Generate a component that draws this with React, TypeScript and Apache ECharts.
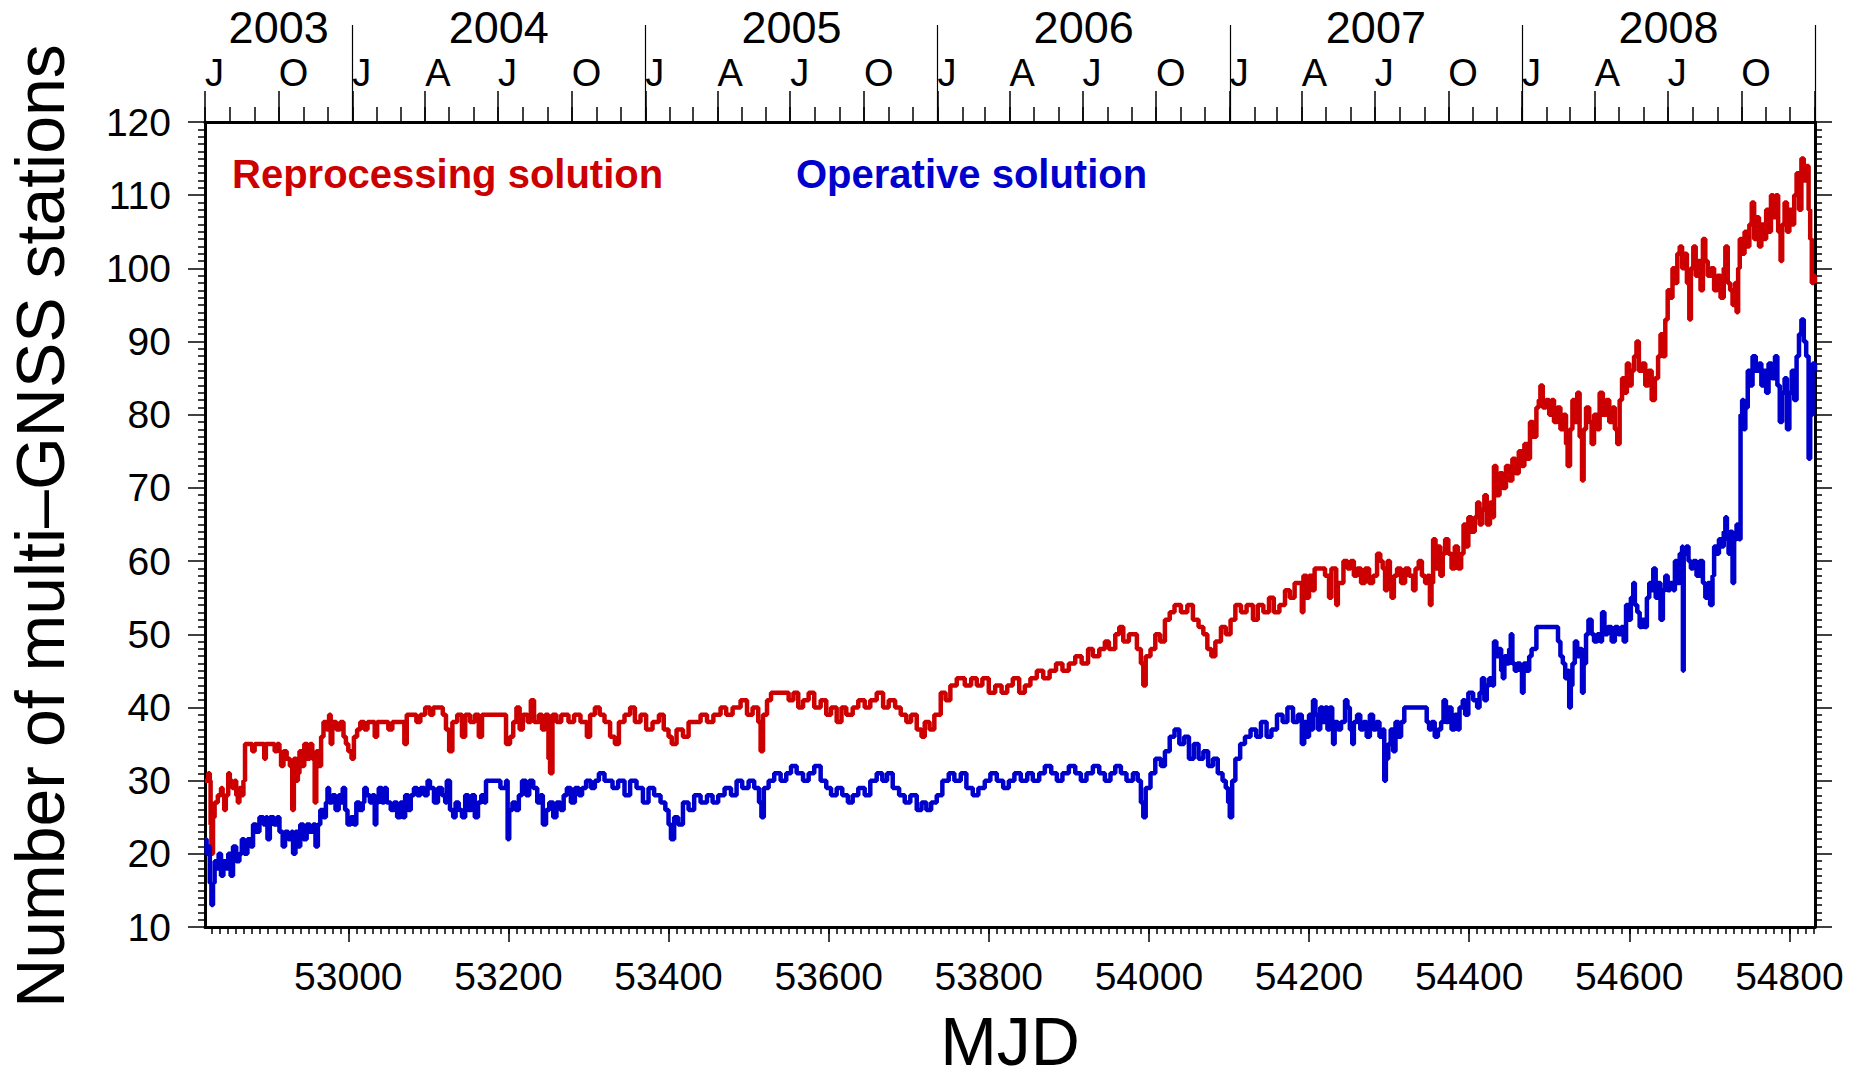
import React, { useEffect, useRef } from "react";
import * as echarts from "echarts";

// ---------- axis ranges & tick values ----------
const X_MIN = 52821; // 2003-07-01
const X_MAX = 54832; // 2009-01-01
const Y_MIN = 10;
const Y_MAX = 120;
const Y_INTERVAL = 10;
const bottomMajorTicks = [53000, 53200, 53400, 53600, 53800, 54000, 54200, 54400, 54600, 54800];
const monthLetters = ["J", "F", "M", "A", "M", "J", "J", "A", "S", "O", "N", "D"];
const quarterLetterMonths = [0, 3, 6, 9];

// ---------- data: [MJD, number of stations] ----------
const reprocessing: [number, number][] = [
  [52821,30],[52825,31],[52827,30],[52828,24],[52829,20],[52831,25],[52833,27],[52837,28],[52841,29],[52843,28],[52845,26],[52847,28],[52850,31],[52852,30],[52855,29],[52858,30],[52860,28],[52862,27],[52864,29],[52867,28],[52869,30],[52871,35],[52880,34],[52883,35],[52893,35],[52895,33],[52897,35],[52908,34],[52911,35],[52914,34],[52916,32],[52919,34],[52923,33],[52927,32],[52930,26],[52932,33],[52935,30],[52937,31],[52939,34],[52942,32],[52945,35],[52949,33],[52952,35],[52955,33],[52958,27],[52960,34],[52963,32],[52966,36],[52969,38],[52973,37],[52976,39],[52978,35],[52980,38],[52985,37],[52990,38],[52994,36],[52997,35],[53000,34],[53004,33],[53007,36],[53011,37],[53015,38],[53020,37],[53024,38],[53030,38],[53033,36],[53036,38],[53045,38],[53050,37],[53055,38],[53066,38],[53070,35],[53073,39],[53080,39],[53085,38],[53090,39],[53096,40],[53102,39],[53106,40],[53112,40],[53118,39],[53122,37],[53126,34],[53130,38],[53136,39],[53142,36],[53146,39],[53152,38],[53158,39],[53163,36],[53167,39],[53175,39],[53190,39],[53197,35],[53202,36],[53206,38],[53210,40],[53214,37],[53218,39],[53224,38],[53228,41],[53232,38],[53238,39],[53242,37],[53246,39],[53250,33],[53252,31],[53255,39],[53260,38],[53266,39],[53275,38],[53282,39],[53290,38],[53298,36],[53302,39],[53308,40],[53314,39],
  [53320,38],[53327,36],[53333,35],[53338,38],[53345,39],[53352,40],[53358,38],[53365,39],[53372,37],[53380,38],[53388,39],[53394,37],[53400,36],[53404,35],[53410,37],[53418,36],[53425,38],[53433,38],[53440,39],[53448,38],[53456,39],[53465,40],[53472,39],[53480,40],[53490,41],[53498,39],[53505,40],[53512,38],[53515,34],[53518,39],[53523,41],[53528,42],[53545,42],[53550,41],[53556,42],[53562,40],[53568,41],[53575,42],[53582,40],[53590,41],[53597,39],[53603,40],[53610,38],[53616,40],[53622,39],[53630,40],[53637,41],[53645,40],[53652,41],[53660,42],[53668,40],[53675,41],[53683,40],[53690,39],[53697,38],[53703,39],[53710,37],[53716,36],[53720,38],[53726,37],[53732,39],[53740,42],[53746,41],[53752,43],[53760,44],[53770,43],[53778,44],[53785,43],[53792,44],[53800,42],[53808,43],[53816,42],[53823,43],[53830,44],[53838,42],[53845,43],[53852,44],[53860,45],[53868,44],[53876,45],[53884,46],[53892,45],[53900,46],[53908,47],[53916,46],[53924,48],[53930,47],[53938,48],[53945,49],[53950,48],[53958,50],[53963,51],[53968,49],[53975,50],[53985,48],[53990,46],[53993,43],[53996,47],[54002,48],[54008,50],[54014,49],[54020,52],[54026,53],[54032,54],[54040,53],[54048,54],[54055,52],[54062,51],[54068,50],[54073,48],[54078,47],[54083,49],[54090,51],[54096,50],[54102,52],[54108,54],[54115,53],[54122,54],[54130,52],[54136,54],[54143,53],[54150,55],[54156,53],[54163,54],[54170,56],[54176,55],[54182,57],
  [54189,57],[54191,53],[54193,58],[54197,55],[54200,58],[54204,56],[54207,59],[54215,59],[54220,58],[54225,55],[54228,59],[54234,54],[54236,57],[54243,60],[54248,59],[54252,60],[54256,58],[54260,59],[54265,57],[54270,59],[54275,57],[54280,58],[54285,61],[54289,60],[54292,59],[54295,56],[54298,60],[54301,57],[54303,55],[54306,58],[54310,59],[54315,57],[54320,59],[54325,58],[54330,56],[54333,59],[54337,60],[54341,58],[54345,57],[54348,58],[54351,54],[54353,57],[54355,63],[54358,59],[54361,62],[54364,58],[54367,61],[54370,63],[54374,61],[54378,59],[54382,62],[54386,59],[54390,61],[54393,65],[54396,62],[54399,66],[54403,64],[54407,66],[54410,68],[54413,65],[54416,67],[54419,69],[54422,65],[54426,68],[54429,66],
  [54431,73],[54434,69],[54438,72],[54442,70],[54446,73],[54450,71],[54454,74],[54458,72],[54462,75],[54466,73],[54469,76],[54473,74],[54476,79],[54480,77],[54484,81],[54487,82],[54489,84],[54492,81],[54496,82],[54500,80],[54503,82],[54506,79],[54510,81],[54514,78],[54518,80],[54521,76],[54523,73],[54526,78],[54529,82],[54532,79],[54535,83],[54538,77],[54541,71],[54543,78],[54546,81],[54550,79],[54553,76],[54556,80],[54560,78],[54563,83],[54567,80],[54571,82],[54575,79],[54579,81],[54582,78],[54585,76],[54588,82],[54591,85],[54594,83],[54597,87],[54600,84],[54603,86],[54606,88],[54609,90],[54612,86],[54616,87],[54620,84],[54624,86],[54628,82],[54632,85],[54636,88],[54639,91],[54642,88],[54645,93],[54648,97],[54651,96],[54654,100],[54657,98],[54660,102],[54663,103],[54666,100],[54669,102],[54672,98],[54675,93],[54677,100],[54680,103],[54683,99],[54686,101],[54689,97],[54692,104],[54695,101],[54698,99],[54702,100],[54706,97],[54710,99],[54714,96],[54718,100],[54720,103],[54723,98],[54726,97],[54729,95],[54732,98],[54734,94],[54736,100],[54738,104],[54741,102],[54744,105],[54747,103],[54750,106],[54753,109],[54756,104],[54759,107],[54762,103],[54765,106],[54768,104],[54771,108],[54774,105],[54777,110],[54780,107],[54783,110],[54786,105],[54789,101],[54791,106],[54794,109],[54797,105],[54800,108],[54803,106],[54806,110],[54809,113],[54812,108],[54815,115],[54818,112],[54821,114],[54824,108],[54826,104],[54828,98],[54830,99],[54832,98]
];

const operative: [number, number][] = [
  [52821,22],[52823,20],[52825,21],[52827,16],[52829,13],[52831,16],[52833,19],[52836,18],[52838,20],[52841,17],[52844,19],[52847,18],[52850,20],[52853,17],[52856,21],[52860,19],[52864,20],[52867,22],[52870,20],[52874,22],[52878,21],[52881,24],[52885,23],[52889,25],[52894,24],[52897,25],[52899,22],[52902,25],[52907,24],[52911,25],[52914,23],[52918,21],[52921,23],[52925,22],[52929,23],[52931,20],[52934,23],[52937,21],[52940,24],[52944,22],[52948,24],[52952,23],[52956,24],[52959,21],[52962,24],[52965,26],[52969,25],[52972,27],[52974,29],[52976,27],[52980,28],[52984,26],[52988,28],[52991,27],[52993,29],[52996,26],[52999,24],[53003,25],[53007,24],[53010,27],[53014,26],[53018,27],[53020,29],[53023,28],[53027,27],[53030,28],[53033,24],[53035,27],[53038,29],[53042,27],[53045,29],[53048,27],[53053,26],[53057,27],[53061,25],[53065,27],[53068,25],[53071,28],[53075,26],[53078,28],[53082,29],[53086,28],[53090,29],[53095,28],[53099,30],[53102,29],[53107,27],[53112,29],[53117,28],[53121,27],[53123,30],[53127,26],[53131,25],[53134,27],[53138,26],[53142,25],[53146,28],[53150,26],[53154,28],[53158,25],[53162,27],[53166,28],[53170,27],[53172,30],[53185,30],[53190,29],[53197,30],[53199,22],[53201,26],[53205,27],[53209,26],[53213,28],[53217,30],[53222,28],[53226,30],[53231,29],[53236,27],[53240,28],[53243,24],[53247,26],[53251,27],[53256,25],[53260,27],[53265,26],[53269,28],[53273,29],[53278,27],[53283,29],[53288,28],[53292,29],[53297,30],[53303,29],[53308,30],[53313,31],
  [53320,30],[53330,29],[53337,30],[53345,28],[53352,30],[53360,29],[53368,27],[53375,29],[53382,28],[53390,27],[53396,26],[53400,24],[53403,22],[53407,25],[53412,24],[53418,27],[53425,26],[53432,28],[53440,27],[53448,28],[53455,27],[53462,28],[53470,29],[53478,28],[53485,30],[53492,29],[53500,30],[53507,29],[53513,27],[53516,25],[53519,29],[53525,30],[53532,31],[53540,30],[53547,31],[53553,32],[53560,31],[53568,30],[53575,31],[53582,32],[53590,30],[53597,29],[53603,28],[53610,29],[53617,28],[53624,27],[53630,28],[53637,29],[53645,28],[53652,30],[53660,31],[53667,30],[53673,31],[53680,29],[53688,28],[53695,27],[53702,28],[53710,26],[53716,27],[53722,26],[53728,27],[53735,28],[53742,30],[53750,31],[53757,30],[53765,31],[53772,29],[53780,28],[53787,29],[53795,30],[53802,31],[53810,30],[53818,29],[53825,30],[53832,31],[53840,30],[53848,31],[53855,30],[53863,31],[53870,32],[53878,31],[53885,30],[53892,31],[53900,32],[53908,31],[53915,30],[53922,31],[53930,32],[53938,31],[53945,30],[53952,31],[53958,32],[53965,31],[53972,30],[53980,31],[53986,30],[53990,27],[53993,25],[53996,29],[54002,31],[54008,33],[54015,32],[54020,34],[54026,36],[54032,37],[54038,35],[54044,36],[54050,33],[54056,35],[54062,33],[54068,34],[54074,32],[54080,33],[54086,31],[54092,30],[54096,29],[54099,27],[54101,25],[54104,30],[54108,33],[54114,35],[54120,36],[54127,37],[54134,36],[54140,38],[54147,36],[54153,37],[54160,39],[54167,38],[54173,40],[54180,38],[54186,39],
  [54189,39],[54191,35],[54194,38],[54197,36],[54200,39],[54203,37],[54205,41],[54208,39],[54211,37],[54214,40],[54217,38],[54220,40],[54223,37],[54226,40],[54229,38],[54230,35],[54232,38],[54236,37],[54240,38],[54245,41],[54248,40],[54251,37],[54254,35],[54256,38],[54260,39],[54264,37],[54268,38],[54272,36],[54276,39],[54280,37],[54284,38],[54288,36],[54292,37],[54294,30],[54296,33],[54299,35],[54302,37],[54305,34],[54308,38],[54312,36],[54315,38],[54319,40],[54345,40],[54347,38],[54350,37],[54353,38],[54357,36],[54361,37],[54365,38],[54368,41],[54371,38],[54374,40],[54378,37],[54382,39],[54386,37],[54388,40],[54392,41],[54395,39],[54399,42],[54405,41],[54410,40],[54413,42],[54416,44],[54419,41],[54422,43],[54425,44],[54429,43],
  [54431,49],[54434,47],[54437,48],[54440,45],[54442,44],[54444,47],[54447,46],[54450,48],[54452,50],[54454,46],[54457,45],[54460,46],[54464,45],[54466,42],[54468,46],[54472,45],[54475,47],[54478,48],[54484,51],[54509,51],[54511,49],[54514,47],[54517,46],[54520,44],[54523,45],[54525,40],[54527,43],[54529,46],[54532,49],[54535,47],[54538,48],[54541,42],[54543,46],[54546,50],[54549,52],[54553,50],[54556,49],[54560,50],[54564,49],[54566,53],[54569,50],[54573,51],[54578,49],[54582,51],[54586,50],[54590,51],[54593,49],[54596,54],[54599,52],[54602,55],[54605,57],[54607,54],[54610,53],[54613,51],[54616,52],[54619,51],[54622,55],[54625,57],[54628,56],[54630,59],[54633,55],[54636,57],[54639,52],[54642,56],[54645,58],[54648,56],[54651,57],[54655,56],[54657,60],[54660,57],[54663,61],[54666,62],[54667,45],[54668,61],[54671,62],[54674,60],[54677,59],[54680,60],[54684,58],[54688,60],[54692,57],[54695,55],[54698,57],[54701,54],[54704,58],[54706,62],[54709,61],[54712,63],[54715,62],[54718,64],[54720,66],[54722,63],[54724,61],[54726,64],[54729,57],[54731,63],[54734,65],[54737,63],
  [54739,80],[54741,82],[54743,78],[54745,81],[54748,86],[54751,84],[54754,88],[54758,86],[54762,87],[54765,84],[54768,86],[54771,83],[54774,87],[54778,85],[54782,88],[54785,84],[54788,79],[54791,83],[54794,85],[54797,78],[54800,83],[54803,86],[54806,82],[54809,88],[54812,91],[54815,93],[54818,90],[54821,88],[54824,74],[54826,80],[54829,87],[54832,86]
];

// ---------- calendar helpers for the top (date) axis ----------
const mjdOf = (y: number, m: number) => Date.UTC(y, m, 1) / 86400000 + 40587;
const monthOfMjd = (v: number) => new Date((v - 40587) * 86400000).getUTCMonth();
const yearOfMjd = (v: number) => new Date((v - 40587) * 86400000).getUTCFullYear();

const monthStarts: number[] = [];
for (let y = 2003; y <= 2009; y++) {
  for (let m = 0; m < 12; m++) {
    const v = mjdOf(y, m);
    if (v >= X_MIN && v <= X_MAX) monthStarts.push(v);
  }
}
const quarterStarts = monthStarts.filter((v) => quarterLetterMonths.includes(monthOfMjd(v)));
const quarterLabelValues = quarterStarts.filter((v) => v < X_MAX);
const yearStarts = monthStarts.filter((v) => monthOfMjd(v) === 0);
const yearBounds = [X_MIN, ...yearStarts];
const yearMids: number[] = [];
for (let i = 0; i < yearBounds.length - 1; i++) yearMids.push((yearBounds[i] + yearBounds[i + 1]) / 2);
const minorDayTicks: number[] = [];
for (let v = 52830; v <= X_MAX; v += 10) minorDayTicks.push(v);

const FONT = "'Liberation Sans', Arial, Helvetica, sans-serif";
const RED = "#cc0000";
const BLUE = "#0000cc";

export default function App() {
  const ref = useRef<HTMLDivElement>(null);

  useEffect(() => {
    if (!ref.current) return;
    const chart = echarts.init(ref.current, null, { renderer: "svg" });
    const gridPos = { left: 205, right: 47, top: 122, bottom: 153 };
    const black = "#000";
    const hidden = { show: false };

    chart.setOption({
      animation: false,
      backgroundColor: "#fff",
      grid: [{ ...gridPos }, { ...gridPos }, { ...gridPos }],
      xAxis: [
        {
          gridIndex: 0, type: "value", position: "bottom", min: X_MIN, max: X_MAX,
          axisLine: { show: true, onZero: false, lineStyle: { color: black, width: 3 } },
          axisTick: { show: true, inside: false, length: 15, customValues: bottomMajorTicks, lineStyle: { color: black, width: 1.5 } },
          axisLabel: { show: true, customValues: bottomMajorTicks, margin: 30, color: black, fontSize: 39, fontFamily: FONT, formatter: (v: number) => String(v) },
          splitLine: hidden, minorTick: hidden,
        },
        {
          gridIndex: 0, type: "value", position: "top", min: X_MIN, max: X_MAX,
          axisLine: { show: true, onZero: false, lineStyle: { color: black, width: 3 } },
          axisTick: { show: true, inside: false, length: 15, customValues: monthStarts, lineStyle: { color: black, width: 1.5 } },
          axisLabel: hidden, splitLine: hidden,
        },
        {
          gridIndex: 1, type: "value", position: "bottom", min: X_MIN, max: X_MAX,
          axisLine: { show: false, onZero: false },
          axisTick: { show: true, inside: false, length: 7, customValues: minorDayTicks, lineStyle: { color: black, width: 1.5 } },
          axisLabel: hidden, splitLine: hidden,
        },
        {
          gridIndex: 1, type: "value", position: "top", min: X_MIN, max: X_MAX,
          axisLine: { show: false, onZero: false },
          axisTick: { show: true, inside: false, length: 31, customValues: quarterStarts, lineStyle: { color: black, width: 1.5 } },
          axisLabel: {
            show: true, customValues: quarterLabelValues, margin: 30, align: "left", color: black,
            fontSize: 38, fontFamily: FONT, formatter: (v: number) => monthLetters[monthOfMjd(v)],
          },
          splitLine: hidden,
        },
        {
          gridIndex: 2, type: "value", position: "top", min: X_MIN, max: X_MAX,
          axisLine: { show: false, onZero: false },
          axisTick: { show: true, inside: false, length: 97, customValues: yearStarts, lineStyle: { color: black, width: 1.2 } },
          axisLabel: {
            show: true, customValues: yearMids, margin: 72, color: black,
            fontSize: 45, fontFamily: FONT, formatter: (v: number) => String(yearOfMjd(v)),
          },
          splitLine: hidden,
        },
      ],
      yAxis: [
        {
          gridIndex: 0, type: "value", position: "left", min: Y_MIN, max: Y_MAX, interval: Y_INTERVAL,
          axisLine: { show: true, onZero: false, lineStyle: { color: black, width: 3 } },
          axisTick: { show: true, inside: false, length: 17, lineStyle: { color: black, width: 1.5 } },
          minorTick: { show: true, splitNumber: 10, length: 7, lineStyle: { color: black, width: 1.5 } },
          axisLabel: { show: true, margin: 34, color: black, fontSize: 39, fontFamily: FONT },
          splitLine: hidden, minorSplitLine: hidden,
        },
        {
          gridIndex: 0, type: "value", position: "right", min: Y_MIN, max: Y_MAX, interval: Y_INTERVAL,
          axisLine: { show: true, onZero: false, lineStyle: { color: black, width: 3 } },
          axisTick: { show: true, inside: false, length: 17, lineStyle: { color: black, width: 1.5 } },
          minorTick: { show: true, splitNumber: 10, length: 7, lineStyle: { color: black, width: 1.5 } },
          axisLabel: hidden, splitLine: hidden, minorSplitLine: hidden,
        },
        { gridIndex: 1, type: "value", min: Y_MIN, max: Y_MAX, show: false },
        { gridIndex: 2, type: "value", min: Y_MIN, max: Y_MAX, show: false },
      ],
      series: [
        {
          name: "Reprocessing solution", type: "line", xAxisIndex: 0, yAxisIndex: 0,
          data: reprocessing, step: "end", showSymbol: false, symbol: "none",
          lineStyle: { color: RED, width: 4.5 }, itemStyle: { color: RED }, clip: true,
        },
        {
          name: "Operative solution", type: "line", xAxisIndex: 0, yAxisIndex: 0,
          data: operative, step: "end", showSymbol: false, symbol: "none",
          lineStyle: { color: BLUE, width: 4.5 }, itemStyle: { color: BLUE }, clip: true,
        },
      ],
      graphic: [
        {
          type: "text", x: 232, y: 174,
          style: { text: "Reprocessing solution", fill: RED, fontSize: 40, fontWeight: "bold", fontFamily: FONT, align: "left", verticalAlign: "middle" },
        },
        {
          type: "text", x: 796, y: 174,
          style: { text: "Operative solution", fill: BLUE, fontSize: 40, fontWeight: "bold", fontFamily: FONT, align: "left", verticalAlign: "middle" },
        },
        {
          type: "text", x: 1010, y: 1041,
          style: { text: "MJD", fill: black, fontSize: 68, lineHeight: 56, fontFamily: FONT, align: "center", verticalAlign: "middle" },
        },
        {
          type: "text", x: 40, y: 526, rotation: Math.PI / 2,
          style: { text: "Number of multi–GNSS stations", fill: black, fontSize: 68, lineHeight: 56, fontFamily: FONT, align: "center", verticalAlign: "middle" },
        },
      ],
    });

    return () => chart.dispose();
  }, []);

  return <div ref={ref} style={{ position: "fixed", left: 0, top: 0, width: 1862, height: 1080, background: "#fff" }} />;
}
